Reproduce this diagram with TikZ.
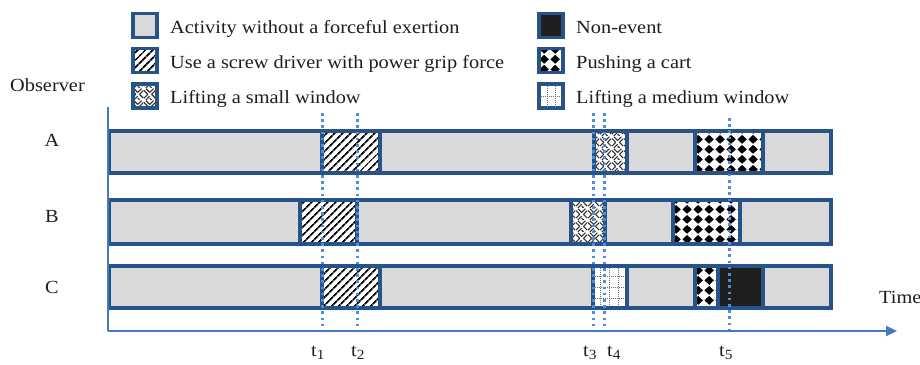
\documentclass[tikz,border=0pt]{standalone}
\usepackage{fontspec}
\setmainfont{Liberation Serif}[FakeStretch=1.1]
\usetikzlibrary{patterns,patterns.meta,arrows.meta}
\definecolor{barblue}{RGB}{38,84,138}
\definecolor{axisblue}{RGB}{68,124,196}
\definecolor{dotblue}{RGB}{79,141,214}
\definecolor{bargray}{RGB}{217,217,217}
\definecolor{txt}{RGB}{30,30,30}
\pgfdeclarepattern{
  name=cartdiam, type=uncolored,
  bottom left={\pgfpoint{0pt}{0pt}}, top right={\pgfpoint{11pt}{10pt}},
  tile size={\pgfpoint{11pt}{10pt}},
  code={
    \pgfpathmoveto{\pgfpoint{5.5pt}{0.2pt}}
    \pgfpathlineto{\pgfpoint{10.5pt}{5pt}}
    \pgfpathlineto{\pgfpoint{5.5pt}{9.8pt}}
    \pgfpathlineto{\pgfpoint{0.5pt}{5pt}}
    \pgfpathclose
    \pgfusepath{fill}
  }
}
\pgfdeclarepattern{
  name=weave, type=uncolored,
  bottom left={\pgfpoint{0pt}{0pt}}, top right={\pgfpoint{12pt}{12pt}},
  tile size={\pgfpoint{12pt}{12pt}},
  code={
    \pgfsetlinewidth{1.2pt}
    \pgfpathmoveto{\pgfpoint{0pt}{2pt}}\pgfpathlineto{\pgfpoint{4pt}{6pt}}
    \pgfpathmoveto{\pgfpoint{2pt}{0pt}}\pgfpathlineto{\pgfpoint{6pt}{4pt}}
    \pgfpathmoveto{\pgfpoint{6pt}{2pt}}\pgfpathlineto{\pgfpoint{8pt}{0pt}}
    \pgfpathmoveto{\pgfpoint{8pt}{6pt}}\pgfpathlineto{\pgfpoint{12pt}{2pt}}
    \pgfpathmoveto{\pgfpoint{0pt}{10pt}}\pgfpathlineto{\pgfpoint{4pt}{6pt}}
    \pgfpathmoveto{\pgfpoint{2pt}{12pt}}\pgfpathlineto{\pgfpoint{6pt}{8pt}}
    \pgfpathmoveto{\pgfpoint{6pt}{8pt}}\pgfpathlineto{\pgfpoint{10pt}{12pt}}
    \pgfpathmoveto{\pgfpoint{8pt}{6pt}}\pgfpathlineto{\pgfpoint{12pt}{10pt}}
    \pgfusepath{stroke}
  }
}
\begin{document}
\begin{tikzpicture}[x=1pt,y=-1pt,
  lbl/.style={inner sep=0pt,text=txt,font=\fontsize{18.5}{22}\selectfont},
  barbox/.style={draw=barblue,line width=3.2pt,fill=bargray},
  segbox/.style={draw=barblue,line width=3.2pt},
  hatch/.style={segbox,pattern={Lines[angle=45,distance=5.4pt,line width=2pt]},preaction={fill=white}},
  smallwin/.style={segbox,pattern=weave,pattern color=black!80,preaction={fill=white}},
  cart/.style={segbox,pattern=cartdiam,pattern color=black,preaction={fill=white}},
  nonevent/.style={segbox,fill=black!88},
  medwin/.style={segbox,fill=white},
  griddot/.style={draw=black!55,line width=0.9pt,dash pattern=on 1pt off 1pt},
  tline/.style={draw=dotblue,line width=3pt,dash pattern=on 2.6pt off 3.6pt},
  axis/.style={draw=axisblue,line width=2.2pt}]
\useasboundingbox[fill=white] (0,0) rectangle (920,364);

% legend boxes
\draw[barbox] (133,13.5) rectangle (157,37.5);
\draw[hatch] (133,48.5) rectangle (157,72.5);
\draw[smallwin] (133,84) rectangle (157,108);
\draw[nonevent] (539,13.5) rectangle (563,37.5);
\draw[cart] (539,48.5) rectangle (563,72.5);
\draw[medwin] (539,84) rectangle (563,108);
\draw[griddot] (547,85.5) -- (547,106.5) (555,85.5) -- (555,106.5) (540.5,96) -- (561.5,96);

% legend text
\node[lbl,anchor=base west] (l1) at (170,33) {Activity without a forceful exertion};
\node[lbl,anchor=base west] (l2) at (170,68) {Use a screw driver with power grip force};
\node[lbl,anchor=base west] (l3) at (170,103) {Lifting a small window};
\node[lbl,anchor=base west] (r1) at (576,33) {Non-event};
\node[lbl,anchor=base west] (r2) at (576,68) {Pushing a cart};
\node[lbl,anchor=base west] (r3) at (576,103) {Lifting a medium window};

% observer labels
\node[lbl,anchor=base west] (obs) at (10,91) {Observer};
\node[lbl,anchor=base] (oa) at (52,146.5) {A};
\node[lbl,anchor=base] (ob) at (52,222) {B};
\node[lbl,anchor=base] (oc) at (52,293) {C};
\node[lbl,anchor=base west] (time) at (879,303) {Time};

% bars
\draw[barbox] (109,131) rectangle (831,173);
\draw[barbox] (109,200) rectangle (831,244);
\draw[barbox] (109,266) rectangle (831,308);

% bar A segments
\draw[hatch] (322,131) rectangle (380,173);
\draw[smallwin] (594,131) rectangle (627,173);
\draw[cart] (695,131) rectangle (763,173);
% bar B segments
\draw[hatch] (300,200) rectangle (357,244);
\draw[smallwin] (571,200) rectangle (605,244);
\draw[cart] (673,200) rectangle (740,244);
% bar C segments
\draw[medwin] (593,266) rectangle (627,308);
\draw[griddot] (600,267.5) -- (600,306.5) (609,267.5) -- (609,306.5) (618,267.5) -- (618,306.5)
  (594.5,276) -- (625.5,276) (594.5,287) -- (625.5,287) (594.5,298) -- (625.5,298);
\draw[segbox] (593,266) rectangle (627,308);
\draw[hatch] (322,266) rectangle (380,308);
\draw[cart] (695,266) rectangle (718,308);
\draw[nonevent] (718,266) rectangle (763,308);

% time marker lines
\draw[tline] (322,113) -- (322,331);
\draw[tline] (357,113) -- (357,331);
\draw[tline] (593,113) -- (593,331);
\draw[tline] (604,113) -- (604,331);
\draw[tline] (729,118) -- (729,331);

% axes
\coordinate (o) at (108,331);
\coordinate (ytop) at (108,107);
\coordinate (xend) at (897,331);
\draw[axis] (ytop) -- (o);
\draw[axis,-{Triangle[length=11pt,width=10pt]}] (o) -- (xend);

% time labels
\node[lbl,anchor=base west] (t1) at (311,356) {t\textsubscript{\fontsize{14}{14}\selectfont 1}};
\node[lbl,anchor=base west] (t2) at (351,356) {t\textsubscript{\fontsize{14}{14}\selectfont 2}};
\node[lbl,anchor=base west] (t3) at (583,356) {t\textsubscript{\fontsize{14}{14}\selectfont 3}};
\node[lbl,anchor=base west] (t4) at (607,356) {t\textsubscript{\fontsize{14}{14}\selectfont 4}};
\node[lbl,anchor=base west] (t5) at (719,356) {t\textsubscript{\fontsize{14}{14}\selectfont 5}};
\end{tikzpicture}
\end{document}
